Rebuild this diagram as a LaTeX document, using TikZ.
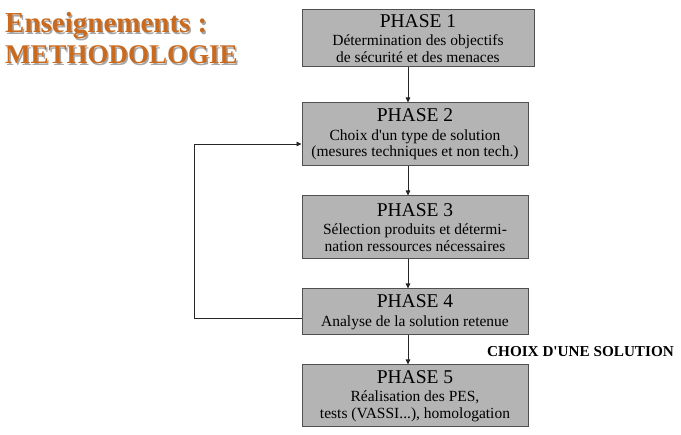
\documentclass[tikz,border=0pt]{standalone}
\usepackage{fontspec}
\setmainfont{Liberation Serif}
\usetikzlibrary{arrows.meta}
\definecolor{ttl}{HTML}{C96A1E}
\definecolor{boxfill}{HTML}{B4B4B4}
\definecolor{boxline}{HTML}{505050}
\tikzset{
  phase/.style={draw=boxline, line width=1pt, fill=boxfill, inner sep=0pt,
    minimum width=226pt, align=center, text=black,
    font=\fontsize{15.5}{16.5}\selectfont},
  arr/.style={-{Triangle[length=5pt,width=4.5pt]}, line width=0.8pt, draw=black!85},
  ttlsty/.style={anchor=base west, inner sep=0pt, font=\fontsize{29}{30}\selectfont\bfseries},
}
\newcommand{\ph}[1]{{\fontsize{19.5}{21}\selectfont PHASE #1}\\[2pt]}
\begin{document}
\begin{tikzpicture}[x=1pt,y=-1pt]
\useasboundingbox (0,0) rectangle (681,435);
% title
\node[ttlsty, text=black!35] (t1s) at (6.5,34.5) {Enseignements :};
\node[ttlsty, text=ttl] (t1) at (5,33) {Enseignements :};
\node[ttlsty, text=black!35, font=\fontsize{27}{28}\selectfont\bfseries] (t2s) at (6.5,65.5) {METHODOLOGIE};
\node[ttlsty, text=ttl, font=\fontsize{27}{28}\selectfont\bfseries] (t2) at (5,64) {METHODOLOGIE};
% boxes
\node[phase, minimum width=232pt, minimum height=57pt] (b1) at (418,38.5)
  {\ph{1}Détermination des objectifs\\de sécurité et des menaces};
\node[phase, minimum height=63pt] (b2) at (415,134.5)
  {\ph{2}Choix d\textquotesingle un type de solution\\(mesures techniques et non tech.)};
\node[phase, minimum height=63pt] (b3) at (415,227.5)
  {\ph{3}Sélection produits et détermi-\\nation ressources nécessaires};
\node[phase, minimum height=46pt] (b4) at (415,312)
  {\ph{4}Analyse de la solution retenue};
\node[phase, minimum height=62pt] (b5) at (415,396)
  {\ph{5}Réalisation des PES,\\tests (VASSI...), homologation};
\node[anchor=base west, inner sep=0pt, font=\fontsize{15.2}{16}\selectfont\bfseries] (ch) at (487,357) {CHOIX D\textquotesingle UNE SOLUTION};
% connectors
\coordinate (ax) at (408,0);
\draw[arr] (b1.south -| ax) -- (b2.north -| ax);
\draw[arr] (b2.south -| ax) -- (b3.north -| ax);
\draw[arr] (b3.south -| ax) -- (b4.north -| ax);
\draw[arr] (b4.south -| ax) -- (b5.north -| ax);
\coordinate (lx) at (194,0);
\coordinate (l1) at ([yshift=-6pt]b4.west);
\coordinate (l2) at ([yshift=-9.5pt]b2.west);
\draw[arr] (l1) -- (l1 -| lx) -- (l2 -| lx) -- (l2);
\end{tikzpicture}
\end{document}
